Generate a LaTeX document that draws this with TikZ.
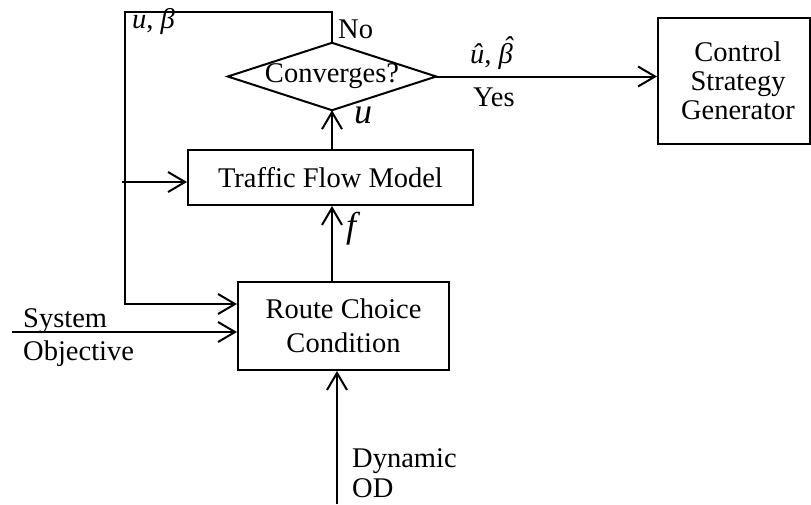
\documentclass[tikz,border=0pt]{standalone}
\usepackage{fontspec}
\setmainfont{Liberation Serif}
\usetikzlibrary{arrows.meta}
\begin{document}
\begin{tikzpicture}[x=1pt,y=-1pt,
  every node/.style={font=\fontsize{28.5}{29}\selectfont, inner sep=0pt},
  boxnode/.style={draw, line width=2pt, align=center},
  conn/.style={line width=2pt},
  arr/.style={line width=2pt, -{Straight Barb[length=17pt,width=20pt,line width=2pt]}},
  lbl/.style={anchor=base west},
  biglbl/.style={anchor=base west, font=\fontsize{36}{36}\selectfont}
]
\useasboundingbox (0,0) rectangle (811,504);

% blocks
\node[boxnode, minimum width=285pt, minimum height=55pt] (tfm) at (330.5,177.5) {Traffic Flow Model};
\node[boxnode, minimum width=211pt, minimum height=88pt, font=\fontsize{28.5}{34}\selectfont] (rcc) at (343.5,326) {Route Choice\\Condition};
\node[boxnode, minimum width=152pt, minimum height=126pt] (csg) at (734,81) {\hspace*{8pt}Control\\\hspace*{8pt}Strategy\\\hspace*{8pt}Generator};
\node[minimum width=208pt, minimum height=67pt] (conv) at (332,76.5) {Converges?};
\draw[conn, line join=miter] (conv.west) -- (conv.north) -- (conv.east) -- (conv.south) -- cycle;

% coordinates of free ends
\coordinate (fbc) at (125,12);
\coordinate (fbin) at (125,304);
\coordinate (br) at (122,182);
\coordinate (sys) at (12,332);
\coordinate (od) at (337,504);

% connectors
\draw[arr] (conv.north) |- (fbc) -- (fbin) -- (fbin -| rcc.west);
\draw[arr] (br) -- (br -| tfm.west);
\draw[arr] (sys) -- (sys -| rcc.west);
\draw[arr] (od) -- (od |- rcc.south);
\draw[arr] (conv.south |- tfm.north) -- (conv.south);
\draw[arr] (conv.south |- rcc.north) -- (conv.south |- tfm.south);
\draw[arr] (conv.east) -- (conv.east -| csg.west);

% labels
\node[lbl] (lub) at (132,28) {\textit{u}, \textit{β}};
\node[lbl] (lno) at (338,38) {No};
\node[lbl] (lhat) at (470,63) {\textit{û}, \textit{\accent"02C6 β}};
\node[lbl] (lyes) at (473,106) {Yes};
\node[biglbl] (lu) at (354,123) {\textit{u}};
\node[biglbl] (lf) at (346,237) {\textit{f}};
\node[lbl] (lsys) at (23,327) {System};
\node[lbl] (lobj) at (23,360) {Objective};
\node[lbl] (ldyn) at (352,467) {Dynamic};
\node[lbl] (lod) at (352,497) {OD};
\end{tikzpicture}
\end{document}
